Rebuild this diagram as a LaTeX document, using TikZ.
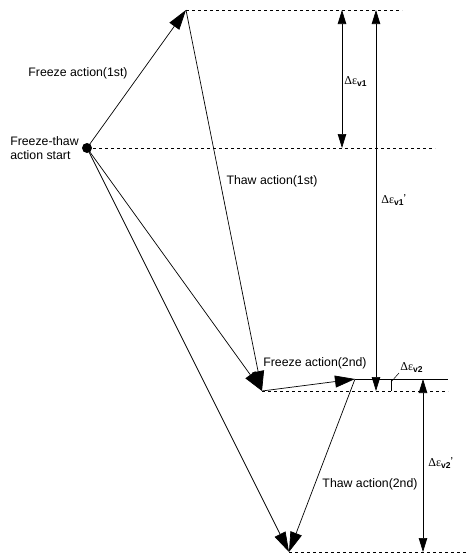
\documentclass[tikz,border=0pt]{standalone}
\usepackage{fontspec}
\setmainfont{Liberation Sans}
\newfontfamily\grkfont{Liberation Serif}
\usetikzlibrary{arrows.meta}

\newcommand{\dev}[1]{{\grkfont Δε}\raisebox{-2pt}{\fontsize{8.5}{9}\selectfont\bfseries #1}}
\newcommand{\devp}[1]{\dev{#1}\raisebox{3.5pt}{\fontsize{8.5}{9}\selectfont\bfseries '}}

\begin{document}
\begin{tikzpicture}[x=1pt, y=-1pt, line width=0.7pt,
    flow/.style={-{Triangle[length=20pt,width=12pt]}},
    dimarrow/.style={{Triangle[length=14pt,width=8.5pt]}-{Triangle[length=14pt,width=8.5pt]}},
    guide/.style={dashed, dash pattern=on 3pt off 3pt, line width=0.6pt},
    lbl/.style={font=\fontsize{12.3}{14.5}\selectfont, inner sep=1pt},
    dlbl/.style={font=\fontsize{12}{13}\selectfont, inner sep=0pt, anchor=west}]
    \useasboundingbox (0,0) rectangle (467,555);

    % Points of the path
    \coordinate (start) at (87,148);
    \coordinate (peak1) at (186,10);
    \coordinate (low1) at (262,391);
    \coordinate (peak2) at (355,379);
    \coordinate (low2) at (289,552);

    % Guide lines
    \coordinate (g1) at (402,10);
    \coordinate (g2) at (435,148);
    \coordinate (g3) at (448,391);
    \coordinate (g4) at (467,552);
    \coordinate (g5) at (448,379);
    \draw[guide] (peak1) -- (g1);
    \draw[guide] (start) -- (g2);
    \draw[guide] (low1) -- (g3);
    \draw[guide] (low2) -- (g4);
    \draw (peak2) -- (g5);

    % Freeze and thaw arrows
    \draw[flow] (start) -- (peak1);
    \draw[flow] (peak1) -- (low1);
    \draw[flow] (start) -- (low1);
    \draw[flow] (low1) -- (peak2);
    \draw[flow] (peak2) -- (low2);
    \draw[flow] (start) -- (low2);
    \fill (start) circle (5pt);

    % Labels
    \node[lbl] (f1) at (78,73) {Freeze action(1st)};
    \node[lbl, align=left, anchor=east] (st) at (80,148) {Freeze-thaw\\action start};
    \node[lbl] (t1) at (272,181) {Thaw action(1st)};
    \node[lbl] (f2) at (315,363) {Freeze action(2nd)};
    \node[lbl] (t2) at (370,484) {Thaw action(2nd)};

    % Strain increments
    \coordinate (d1a) at (342,10);
    \coordinate (d1b) at (342,148);
    \coordinate (d2a) at (376,10);
    \coordinate (d2b) at (376,391);
    \coordinate (d3a) at (423,379);
    \coordinate (d3b) at (423,552);
    \coordinate (k1) at (391,379);
    \coordinate (k2) at (391,391);
    \coordinate (k3) at (391,382);
    \coordinate (k4) at (399,373);
    \draw[dimarrow] (d1a) -- (d1b);
    \draw[dimarrow] (d2a) -- (d2b);
    \draw[dimarrow] (d3a) -- (d3b);
    \draw (k1) -- (k2);
    \draw[line width=0.5pt] (k3) -- (k4);

    \node[dlbl] (e1) at (344,82) {\dev{v1}};
    \node[dlbl] (e2) at (381,200) {\devp{v1}};
    \node[dlbl] (e3) at (400,368) {\dev{v2}};
    \node[dlbl] (e4) at (428,463) {\devp{v2}};
\end{tikzpicture}
\end{document}
